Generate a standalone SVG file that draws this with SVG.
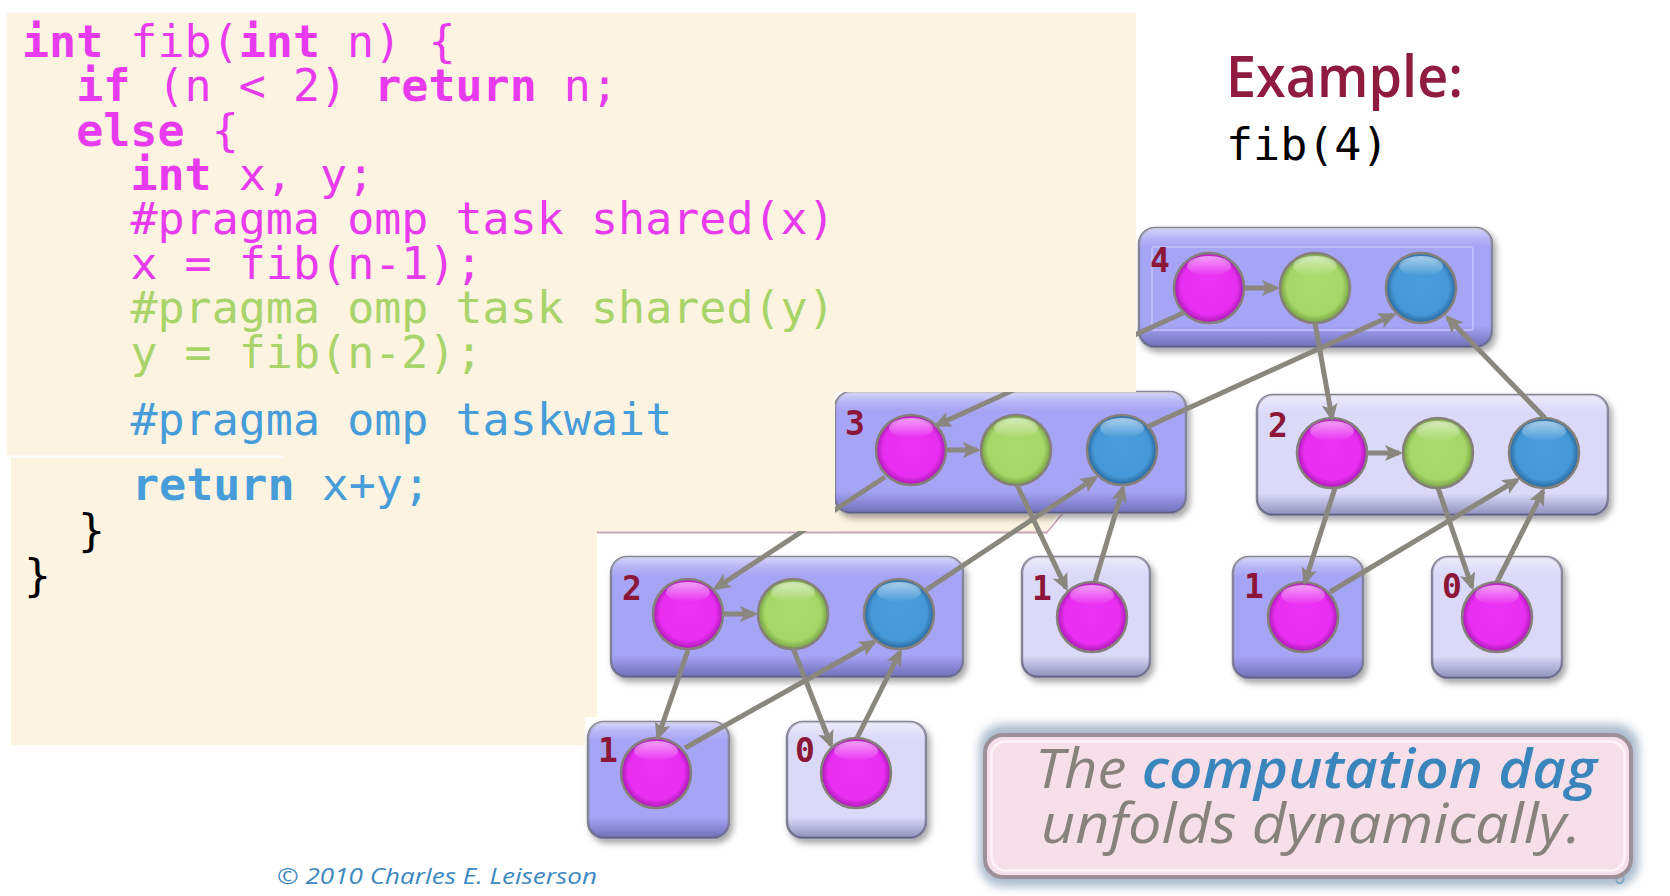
<svg xmlns="http://www.w3.org/2000/svg" width="1670" height="896" viewBox="0 0 1670 896">
<style>
.code{font-family:"DejaVu Sans Mono","Liberation Mono",monospace;font-size:45px}
.b{font-weight:bold}
.mg{fill:#E83AEE}.gr{fill:#A8D46A}.bl{fill:#479DD9}.bk{fill:#000}
.boxD{fill:#A6A4F4;stroke:#85849A;stroke-width:2.5}
.boxL{fill:#DAD9F8;stroke:#85849A;stroke-width:2.5}
.bev{fill:url(#bev);stroke:none}
.lbl{font-family:"DejaVu Sans Mono","Liberation Mono",monospace;font-weight:bold;font-size:33px;fill:#8C1638}
.cm{fill:url(#gm);stroke:#85817A;stroke-width:2.5}
.cg{fill:url(#gg);stroke:#85817A;stroke-width:2.5}
.cb{fill:url(#gb);stroke:#85817A;stroke-width:2.5}
.hl{fill:url(#hlg)}
.edge{stroke:#8A877F;stroke-width:5;fill:none;marker-end:url(#ah)}
.cream{fill:#FCF3E0}
</style>
<defs>
<filter id="sh" x="-10%" y="-10%" width="130%" height="140%"><feDropShadow dx="3" dy="4" stdDeviation="3" flood-color="#000" flood-opacity="0.35"/></filter>
<filter id="blur" x="-10%" y="-20%" width="120%" height="140%"><feGaussianBlur stdDeviation="5"/></filter>
<linearGradient id="bev" x1="0" y1="0" x2="0" y2="1">
<stop offset="0" stop-color="#fff" stop-opacity="0.55"/>
<stop offset="0.08" stop-color="#fff" stop-opacity="0.2"/>
<stop offset="0.16" stop-color="#fff" stop-opacity="0"/>
<stop offset="0.82" stop-color="#202060" stop-opacity="0"/>
<stop offset="1" stop-color="#202060" stop-opacity="0.4"/>
</linearGradient>
<radialGradient id="gm" cx="0.5" cy="0.5" r="0.5" fx="0.5" fy="0.42"><stop offset="0" stop-color="#EC34F4"/><stop offset="0.8" stop-color="#E82EF0"/><stop offset="1" stop-color="#A818B2"/></radialGradient>
<radialGradient id="gg" cx="0.5" cy="0.5" r="0.5" fx="0.5" fy="0.42"><stop offset="0" stop-color="#ABDB6D"/><stop offset="0.8" stop-color="#A7D768"/><stop offset="1" stop-color="#749F42"/></radialGradient>
<radialGradient id="gb" cx="0.5" cy="0.5" r="0.5" fx="0.5" fy="0.42"><stop offset="0" stop-color="#489DDA"/><stop offset="0.8" stop-color="#4699D6"/><stop offset="1" stop-color="#26669E"/></radialGradient>
<linearGradient id="hlg" x1="0" y1="0" x2="0" y2="1"><stop offset="0" stop-color="#fff" stop-opacity="0.55"/><stop offset="1" stop-color="#fff" stop-opacity="0"/></linearGradient>
<marker id="ah" markerUnits="userSpaceOnUse" markerWidth="20" markerHeight="18" viewBox="0 -9 20 18" refX="14" refY="0" orient="auto"><path d="M0,-8 L18,0 L0,8 L4,0 Z" fill="#8A877F"/></marker>
</defs>
<rect width="1670" height="896" fill="#fff"/>

<g id="callout-back">
<polygon class="cream" points="835,505 1063,505 1047,532 835,532"/>
<line x1="597" y1="532.5" x2="1047" y2="532.5" stroke="#C7A5B2" stroke-width="2"/>
<line x1="1047" y1="532.5" x2="1063" y2="513" stroke="#C7A5B2" stroke-width="1.5"/>
</g>

<g id="box4">
<rect class="boxD" x="1139" y="228" width="353" height="119" rx="16" filter="url(#sh)"/>
<rect class="bev" x="1139" y="228" width="353" height="119" rx="16"/>
<rect x="1152" y="247" width="321" height="83" rx="2" fill="none" stroke="#BDBBFA" stroke-width="2"/>
<text class="lbl" x="1150" y="272">4</text>
<circle class="cm" cx="1209" cy="288" r="35"/><ellipse class="hl" cx="1209" cy="266" rx="22" ry="10"/>
<circle class="cg" cx="1315" cy="288" r="35"/><ellipse class="hl" cx="1315" cy="266" rx="22" ry="10"/>
<circle class="cb" cx="1421" cy="288" r="35"/><ellipse class="hl" cx="1421" cy="266" rx="22" ry="10"/>
</g>

<g id="box3">
<rect class="boxD" x="835" y="392" width="351" height="121" rx="16" filter="url(#sh)"/>
<rect class="bev" x="835" y="392" width="351" height="121" rx="16"/>
<text class="lbl" x="845" y="435">3</text>
<circle class="cm" cx="911" cy="450" r="35"/><ellipse class="hl" cx="911" cy="428" rx="22" ry="10"/>
<circle class="cg" cx="1016" cy="450" r="35"/><ellipse class="hl" cx="1016" cy="428" rx="22" ry="10"/>
<circle class="cb" cx="1122" cy="450" r="35"/><ellipse class="hl" cx="1122" cy="428" rx="22" ry="10"/>
</g>

<g id="box2r">
<rect class="boxL" x="1257" y="395" width="351" height="120" rx="16" filter="url(#sh)"/>
<rect class="bev" x="1257" y="395" width="351" height="120" rx="16"/>
<text class="lbl" x="1268" y="437">2</text>
<circle class="cm" cx="1332" cy="453" r="35"/><ellipse class="hl" cx="1332" cy="431" rx="22" ry="10"/>
<circle class="cg" cx="1438" cy="453" r="35"/><ellipse class="hl" cx="1438" cy="431" rx="22" ry="10"/>
<circle class="cb" cx="1544" cy="453" r="35"/><ellipse class="hl" cx="1544" cy="431" rx="22" ry="10"/>
</g>

<g id="box2l">
<rect class="boxD" x="611" y="557" width="352" height="120" rx="16" filter="url(#sh)"/>
<rect class="bev" x="611" y="557" width="352" height="120" rx="16"/>
<text class="lbl" x="622" y="600">2</text>
<circle class="cm" cx="688" cy="614" r="35"/><ellipse class="hl" cx="688" cy="592" rx="22" ry="10"/>
<circle class="cg" cx="793" cy="614" r="35"/><ellipse class="hl" cx="793" cy="592" rx="22" ry="10"/>
<circle class="cb" cx="899" cy="614" r="35"/><ellipse class="hl" cx="899" cy="592" rx="22" ry="10"/>
</g>

<g id="box1a">
<rect class="boxL" x="1022" y="557" width="128" height="120" rx="16" filter="url(#sh)"/>
<rect class="bev" x="1022" y="557" width="128" height="120" rx="16"/>
<text class="lbl" x="1032" y="600">1</text>
<circle class="cm" cx="1092" cy="617" r="35"/><ellipse class="hl" cx="1092" cy="595" rx="22" ry="10"/>
</g>

<g id="box1b">
<rect class="boxD" x="1233" y="557" width="130" height="121" rx="16" filter="url(#sh)"/>
<rect class="bev" x="1233" y="557" width="130" height="121" rx="16"/>
<text class="lbl" x="1244" y="598">1</text>
<circle class="cm" cx="1303" cy="617" r="35"/><ellipse class="hl" cx="1303" cy="595" rx="22" ry="10"/>
</g>

<g id="box0a">
<rect class="boxL" x="1432" y="557" width="130" height="121" rx="16" filter="url(#sh)"/>
<rect class="bev" x="1432" y="557" width="130" height="121" rx="16"/>
<text class="lbl" x="1442" y="598">0</text>
<circle class="cm" cx="1497" cy="617" r="35"/><ellipse class="hl" cx="1497" cy="595" rx="22" ry="10"/>
</g>

<g id="box1c">
<rect class="boxD" x="588" y="722" width="141" height="116" rx="16" filter="url(#sh)"/>
<rect class="bev" x="588" y="722" width="141" height="116" rx="16"/>
<text class="lbl" x="598" y="762">1</text>
<circle class="cm" cx="656" cy="773" r="35"/><ellipse class="hl" cx="656" cy="751" rx="22" ry="10"/>
</g>

<g id="box0b">
<rect class="boxL" x="787" y="722" width="139" height="116" rx="16" filter="url(#sh)"/>
<rect class="bev" x="787" y="722" width="139" height="116" rx="16"/>
<text class="lbl" x="795" y="762">0</text>
<circle class="cm" cx="856" cy="773" r="35"/><ellipse class="hl" cx="856" cy="751" rx="22" ry="10"/>
</g>

<g id="connectors">
<line class="edge" x1="1183" y1="313" x2="937" y2="425"/>
<line class="edge" x1="1245" y1="288" x2="1276" y2="288"/>
<line class="edge" x1="1315" y1="323" x2="1332" y2="418"/>
<line class="edge" x1="1147" y1="427" x2="1393" y2="315"/>
<line class="edge" x1="1545" y1="418" x2="1448" y2="318"/>
<line class="edge" x1="946" y1="450" x2="977" y2="450"/>
<line class="edge" x1="885" y1="477" x2="716" y2="588"/>
<line class="edge" x1="1017" y1="485" x2="1066" y2="588"/>
<line class="edge" x1="1095" y1="582" x2="1123" y2="488"/>
<line class="edge" x1="926" y1="590" x2="1095" y2="478"/>
<line class="edge" x1="1367" y1="453" x2="1399" y2="453"/>
<line class="edge" x1="1335" y1="488" x2="1305" y2="582"/>
<line class="edge" x1="1438" y1="488" x2="1472" y2="587"/>
<line class="edge" x1="1330" y1="592" x2="1517" y2="480"/>
<line class="edge" x1="1497" y1="582" x2="1543" y2="491"/>
<line class="edge" x1="723" y1="614" x2="754" y2="614"/>
<line class="edge" x1="688" y1="650" x2="658" y2="737"/>
<line class="edge" x1="793" y1="648" x2="831" y2="745"/>
<line class="edge" x1="685" y1="748" x2="874" y2="642"/>
<line class="edge" x1="857" y1="738" x2="900" y2="652"/>
</g>

<g id="code">
<path class="cream" d="M7,13 H1136 V392 H835 V531 H597 V717 H585 V745 H11 V457 H7 Z"/>
<rect x="7" y="455.5" width="276" height="2" fill="#fff"/>
<text class="code mg" x="22" y="57" xml:space="preserve"><tspan class="b">int</tspan> fib(<tspan class="b">int</tspan> n) {</text>
<text class="code mg" x="76.2" y="101.4" xml:space="preserve"><tspan class="b">if</tspan> (n &lt; 2) <tspan class="b">return</tspan> n;</text>
<text class="code mg" x="76.2" y="145.7" xml:space="preserve"><tspan class="b">else</tspan> {</text>
<text class="code mg" x="130.4" y="190" xml:space="preserve"><tspan class="b">int</tspan> x, y;</text>
<text class="code mg" x="130.4" y="234.4" xml:space="preserve">#pragma omp task shared(x)</text>
<text class="code mg" x="130.4" y="278.8" xml:space="preserve">x = fib(n-1);</text>
<text class="code gr" x="130.4" y="323.1" xml:space="preserve">#pragma omp task shared(y)</text>
<text class="code gr" x="130.4" y="367.5" xml:space="preserve">y = fib(n-2);</text>
<text class="code bl" x="130.4" y="435" xml:space="preserve">#pragma omp taskwait</text>
<text class="code bl" x="132" y="500" xml:space="preserve"><tspan class="b">return</tspan> x+y;</text>
<text class="code bk" x="78" y="546">}</text>
<text class="code bk" x="24" y="591">}</text>
</g>

<g id="title">
<text x="1226" y="97" font-family="'Open Sans','Noto Sans','Liberation Sans',sans-serif" font-weight="600" font-size="58" fill="#8F1B3F" textLength="237" lengthAdjust="spacingAndGlyphs">Example:</text>
<text class="code" x="1226" y="160" fill="#000">fib(4)</text>
</g>

<g id="footer">
<text x="277" y="884" font-family="'Open Sans','Noto Sans','Liberation Sans',sans-serif" font-style="italic" font-size="21" fill="#3C88C0" textLength="320" lengthAdjust="spacingAndGlyphs">© 2010 Charles E. Leiserson</text>
<text x="1614" y="884" font-family="'Open Sans','Noto Sans','Liberation Sans',sans-serif" font-style="italic" font-size="21" fill="#3C88C0">6</text>
</g>

<g id="caption">
<rect x="979" y="724" width="660" height="163" rx="24" fill="#9DB0C4" opacity="0.85" filter="url(#blur)"/>
<rect x="985" y="735" width="646" height="142" rx="18" fill="#F7DFEA" stroke="#9E9099" stroke-width="4"/>
<rect x="991.5" y="741.5" width="633" height="129" rx="14" fill="none" stroke="#FFF4F8" stroke-width="2.5"/>
<text x="1035" y="788" font-family="'Open Sans','Noto Sans','Liberation Sans',sans-serif" font-style="italic" font-size="54" textLength="562" lengthAdjust="spacingAndGlyphs"><tspan fill="#87837C">The </tspan><tspan fill="#3A86BC" font-weight="600">computation dag</tspan></text>
<text x="1041" y="843" font-family="'Open Sans','Noto Sans','Liberation Sans',sans-serif" font-style="italic" font-size="54" fill="#87837C" textLength="540" lengthAdjust="spacingAndGlyphs">unfolds dynamically.</text>
</g>
</svg>
